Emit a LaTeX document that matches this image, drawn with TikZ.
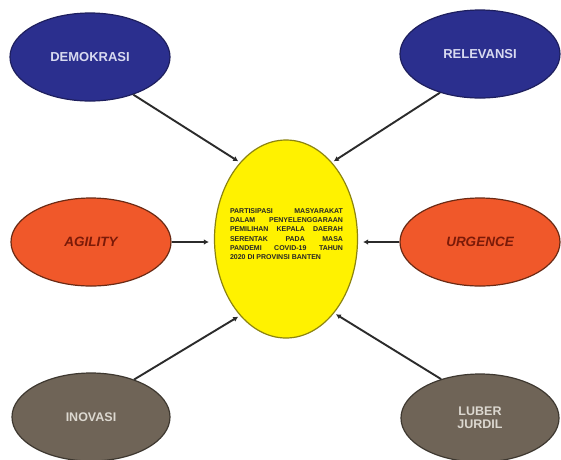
\documentclass[tikz,border=0pt]{standalone}
\usepackage{fontspec}
\setmainfont{Liberation Sans}
\usetikzlibrary{shapes.geometric,arrows.meta}
\definecolor{navyfill}{HTML}{2B2F8E}
\definecolor{navyline}{HTML}{1E1F5E}
\definecolor{bluetext}{HTML}{D8DAF0}
\definecolor{orangefill}{HTML}{F0582A}
\definecolor{orangeline}{HTML}{6B2A14}
\definecolor{orangetext}{HTML}{7A1A08}
\definecolor{grayfill}{HTML}{6F6457}
\definecolor{grayline}{HTML}{3E3830}
\definecolor{graytext}{HTML}{DCD8D0}
\definecolor{yellowfill}{HTML}{FFF200}
\definecolor{yellowline}{HTML}{8C8410}
\definecolor{arrowgray}{HTML}{2B2B2B}
\begin{document}
\begin{tikzpicture}[x=1pt,y=-1pt,
  oval/.style={ellipse, inner sep=0pt, line width=1.2pt},
  bluebox/.style={oval, fill=navyfill, draw=navyline, text=bluetext,
    minimum width=160pt, minimum height=88pt, font=\bfseries\fontsize{13}{15}\selectfont},
  orangebox/.style={oval, fill=orangefill, draw=orangeline, text=orangetext,
    minimum width=160pt, minimum height=88pt, font=\bfseries\itshape\fontsize{13.5}{15}\selectfont},
  graybox/.style={oval, fill=grayfill, draw=grayline, text=graytext,
    minimum width=158pt, minimum height=88pt, font=\bfseries\fontsize{12.5}{13}\selectfont},
  corebox/.style={oval, fill=yellowfill, draw=yellowline,
    minimum width=143pt, minimum height=198pt},
  captiontext/.style={inner sep=0pt, align=left, text=black!85,
    font=\bfseries\fontsize{7}{9.2}\selectfont},
  conn/.style={line width=1.9pt, draw=arrowgray,
    -{Latex[length=5pt,width=5.5pt]}, shorten >=2pt}
]
\useasboundingbox (0,0) rectangle (561,459);
\fill[white] (0,0) rectangle (561,459);

\node[bluebox] (demo) at (90,57) {DEMOKRASI};
\node[bluebox] (relev) at (480,54) {RELEVANSI};
\node[orangebox] (agility) at (91,242) {AGILITY};
\node[orangebox] (urgence) at (480,242) {URGENCE};
\node[graybox] (inovasi) at (91,417) {INOVASI};
\node[graybox, align=center] (luber) at (480,418) {LUBER\\JURDIL};

\node[corebox] (core) at (286,239) {};
\node[captiontext] (caption) at (286.5,234) {%
\makebox[113pt][s]{PARTISIPASI MASYARAKAT}\\
\makebox[113pt][s]{DALAM PENYELENGGARAAN}\\
\makebox[113pt][s]{PEMILIHAN KEPALA DAERAH}\\
\makebox[113pt][s]{SERENTAK PADA MASA}\\
\makebox[113pt][s]{PANDEMI COVID-19 TAHUN}\\
\makebox[113pt][l]{2020 DI PROVINSI BANTEN}};

\draw[conn] (demo.-41.5) -- (core.121.1);
\draw[conn] (relev.224.3) -- (core.59.7);
\draw[conn, shorten >=5pt] (agility.east) -- (agility.east -| core.west);
\draw[conn, shorten >=5pt] (urgence.west) -- (urgence.west -| core.east);
\draw[conn] (inovasi.41.4) -- (core.-121.8);
\draw[conn] (luber.135) -- (core.-57.2);
\end{tikzpicture}
\end{document}
